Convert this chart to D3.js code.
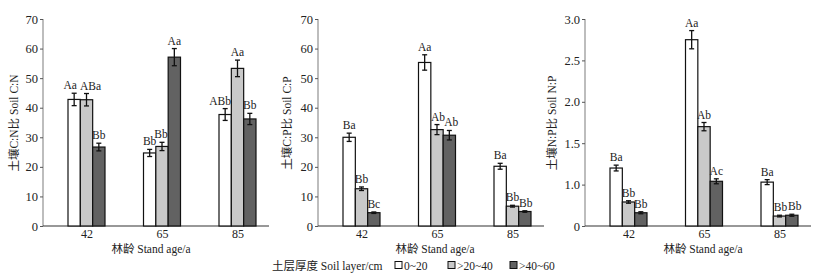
<!DOCTYPE html>
<html><head><meta charset="utf-8">
<script src="https://cdn.jsdelivr.net/npm/d3@7"></script>
<style>
body{margin:0;background:#fff;}
svg{display:block;}
text{font-family:"Liberation Serif","Times New Roman","Noto Sans CJK SC",serif;fill:#222;}
</style></head><body>
<script>
// ---- data ----
const categories = ["42","65","85"];
const layers = ["0~20", ">20~40", ">40~60"];
// C:N
const cnValues = [[42.8,42.7,26.7],[24.7,26.9,57.1],[37.7,53.3,36.2]];
const cnErrors = [[2.1,2.1,1.3],[1.2,1.4,2.9],[2.0,2.8,1.9]];
const cnLetters = [["Aa","ABa","Bb"],["Bb","Bb","Aa"],["ABb","Aa","Bb"]];
// C:P
const cpValues = [[30.0,12.6,4.5],[55.3,32.6,30.7],[20.2,6.7,4.9]];
const cpErrors = [[1.4,0.6,0.25],[2.6,1.7,1.6],[1.0,0.3,0.25]];
const cpLetters = [["Ba","Bb","Bc"],["Aa","Ab","Ab"],["Ba","Bb","Bb"]];
// N:P
const npValues = [[1.20,0.79,0.66],[2.75,1.70,1.04],[1.03,0.62,0.63]];
const npErrors = [[0.035,0.015,0.012],[0.11,0.05,0.03],[0.03,0.01,0.012]];
const npLetters = [["Ba","Bb","Bb"],["Aa","Ab","Ac"],["Ba","Bb","Bb"]];
// tick labels
const cnTicks = [0,10,20,30,40,50,60,70];
const cpTicks = [0,10,20,30,40,50,60,70];
const npTicks = [0.5,1.0,1.5,2.0,2.5,3.0];
const npTickLabels = ["0","1.0","1.5","2.0","2.5","3.0"];
const yTitles = ["土壤C:N比 Soil C:N","土壤C:P比 Soil C:P","土壤N:P比 Soil N:P"];
const xTitle = "林龄 Stand age/a";
const legendTitle = "土层厚度 Soil layer/cm";

const colors = ["#ffffff","#c9c9c9","#626262"];

const W=823,H=279;
const svg = d3.select("body").append("svg").attr("width",W).attr("height",H);
svg.append("rect").attr("width",W).attr("height",H).attr("fill","#fff");

const yTop=19, yBot=226;
// layout: label horizontal nudges (px) to avoid collisions, as in the reference
const nudgeP1 = [[-4,4,0],[0,-1,0],[-5,0,0]];
const nudgeP2 = [[0,0,0],[0,1,2],[0,0,1]];
const nudgeP3 = [[0,0,0],[0,0,0],[0,1,3]];
const panels = [
  {x0:43, values:cnValues, errors:cnErrors, letters:cnLetters, nudge:nudgeP1, domain:[0,70], ticks:cnTicks, fmt:d=>String(d), title:yTitles[0], tx:15, xt:151},
  {x0:318, values:cpValues, errors:cpErrors, letters:cpLetters, nudge:nudgeP2, domain:[0,70], ticks:cpTicks, fmt:d=>String(d), title:yTitles[1], tx:288, xt:435},
  {x0:585, values:npValues, errors:npErrors, letters:npLetters, nudge:nudgeP3, domain:[0.5,3.0], ticks:npTicks, fmt:(d,i)=>npTickLabels[i], title:yTitles[2], tx:553, xt:703}
];

panels.forEach(p=>{
  const g = svg.append("g");
  const y = d3.scaleLinear().domain(p.domain).range([yBot,yTop]);
  const x = d3.scalePoint().domain(categories).range([p.x0+43.5, p.x0+194.5]);
  const xi = d3.scaleBand().domain(layers).range([-18.5,18.5]);
  const plotRight = p.x0+226;

  // y axis
  const ya = g.append("g").attr("transform",`translate(${p.x0},0)`)
    .call(d3.axisLeft(y).tickValues(p.ticks).tickFormat(p.fmt).tickSize(3).tickPadding(2));
  ya.select(".domain").attr("stroke","#9a9a9a").attr("stroke-width",1.3).attr("d",`M0,${yBot}V${yTop}`);
  ya.selectAll(".tick line").attr("stroke","#555");
  ya.selectAll(".tick text").style("font-size","12.5px").attr("fill","#222");

  // x axis
  const xa = g.append("g").attr("transform",`translate(0,${yBot})`)
    .call(d3.axisBottom(x).tickSize(0).tickPadding(3));
  xa.select(".domain").attr("stroke","#333").attr("stroke-width",1.2).attr("d",`M${p.x0},0H${plotRight}`);
  xa.selectAll(".tick text").style("font-size","12px").attr("fill","#222");

  // bars
  categories.forEach((c,ci)=>{
    layers.forEach((l,li)=>{
      const v=p.values[ci][li], e=p.errors[ci][li];
      const bx = x(c)+xi(l);
      g.append("rect").attr("x",bx).attr("y",y(v)).attr("width",xi.bandwidth())
        .attr("height",y(p.domain[0])-y(v)).attr("fill",colors[li]).attr("stroke","#111").attr("stroke-width",1.2);
      const cx = bx+xi.bandwidth()/2;
      const eg = g.append("g").attr("stroke","#111").attr("stroke-width",1.3);
      eg.append("line").attr("x1",cx).attr("x2",cx).attr("y1",y(v-e)).attr("y2",y(v+e));
      eg.append("line").attr("x1",cx-2.5).attr("x2",cx+2.5).attr("y1",y(v-e)).attr("y2",y(v-e));
      eg.append("line").attr("x1",cx-2.5).attr("x2",cx+2.5).attr("y1",y(v+e)).attr("y2",y(v+e));
      g.append("text").attr("x",cx+p.nudge[ci][li]).attr("y",y(v+e)-4).attr("text-anchor","middle")
        .style("font-size","11.5px").text(p.letters[ci][li]);
    });
  });

  // y title
  g.append("text").attr("transform",`translate(${p.tx},123) rotate(-90)`).attr("text-anchor","middle")
    .attr("dominant-baseline","middle").style("font-size","11.5px").text(p.title);
  // x title
  g.append("text").attr("x",p.xt).attr("y",252.5).attr("text-anchor","middle").style("font-size","11.5px").text(xTitle);
});

// legend
const lg = svg.append("g");
lg.append("text").attr("x",272).attr("y",269.5).style("font-size","11.5px").text(legendTitle);
const lx=[395,448,510];
layers.forEach((l,i)=>{
  lg.append("rect").attr("x",lx[i]).attr("y",261.5).attr("width",7).attr("height",7)
    .attr("fill",colors[i]).attr("stroke","#111").attr("stroke-width",1);
  lg.append("text").attr("x",lx[i]+9).attr("y",269.5).style("font-size","11.5px").text(l);
});
</script></body></html>
